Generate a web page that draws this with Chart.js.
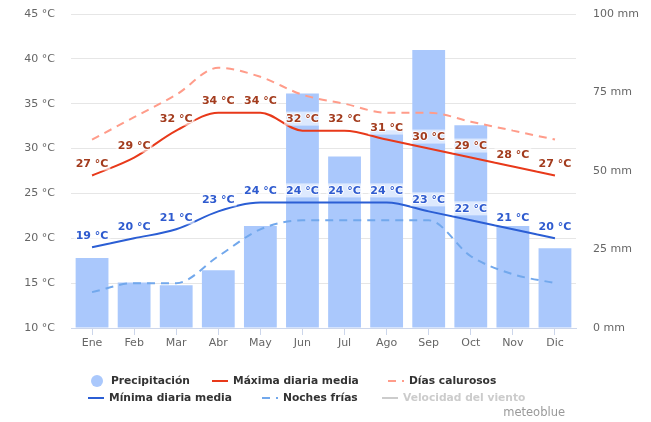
<!DOCTYPE html>
<html>
<head>
<meta charset="utf-8">
<script src="https://cdn.jsdelivr.net/npm/chart.js@4/dist/chart.umd.min.js"></script>
<style>
  html, body { margin: 0; padding: 0; background: #fff; }
  #wrap { position: relative; width: 651px; height: 422px; }
</style>
</head>
<body>
<div id="wrap"><canvas id="climate" width="651" height="422"></canvas></div>
<script>
/* data */
const months = ['Ene', 'Feb', 'Mar', 'Abr', 'May', 'Jun', 'Jul', 'Ago', 'Sep', 'Oct', 'Nov', 'Dic'];
const precipitation = [22.3, 14.5, 13.6, 18.4, 32.5, 74.7, 54.6, 63, 88.5, 64.6, 32.5, 25.4]; // mm
const maxDaily = [27, 29, 32, 34, 34, 32, 32, 31, 30, 29, 28, 27];
const hotDays = [31, 33.5, 36, 39, 38, 36, 35, 34, 34, 33, 32, 31];
const minDaily = [19, 20, 21, 23, 24, 24, 24, 24, 23, 22, 21, 20];
const coldNights = [14, 15, 15, 18, 21, 22, 22, 22, 22, 18, 16, 15];
const windSpeed = []; // hidden series, only in legend

const tempTicks = [10, 15, 20, 25, 30, 35, 40, 45];
const rainTicks = [0, 25, 50, 75, 100];

const FONT = '"DejaVu Sans", Verdana, sans-serif';
Chart.defaults.font.family = FONT;

/* legend slots (x of symbol start, y of row) */
const legendSlots = [[90, 381], [212, 381], [388, 381], [88, 398], [262, 398], [382, 398]];

/* data labels plugin: boxed "NN °C" above the point */
const tempLabels = {
  id: 'tempLabels',
  afterDatasetsDraw(chart) {
    const ctx = chart.ctx;
    ctx.save();
    ctx.font = 'bold 11px ' + FONT;
    ctx.textAlign = 'center';
    ctx.textBaseline = 'middle';
    chart.data.datasets.forEach((ds, di) => {
      if (!ds.labelColor) return;
      const meta = chart.getDatasetMeta(di);
      meta.data.forEach((pt, i) => {
        const txt = ds.data[i] + ' °C';
        const w = ctx.measureText(txt).width + 4;
        const cx = pt.x, cy = pt.y - 12;
        ctx.fillStyle = 'rgba(255,255,255,0.6)';
        ctx.fillRect(cx - w / 2, cy - 7, w, 14);
        ctx.lineWidth = 2;
        ctx.lineJoin = 'round';
        ctx.strokeStyle = 'rgba(255,255,255,0.85)';
        ctx.strokeText(txt, cx, cy + 0.5);
        ctx.fillStyle = ds.labelColor;
        ctx.fillText(txt, cx, cy + 0.5);
      });
    });
    ctx.restore();
  }
};

/* legend + credit drawn on canvas */
const customLegend = {
  id: 'customLegend',
  afterDraw(chart) {
    const ctx = chart.ctx;
    ctx.save();
    ctx.font = 'bold 10.7px ' + FONT;
    ctx.textBaseline = 'middle';
    ctx.textAlign = 'left';
    chart.data.datasets.forEach((ds, i) => {
      const [x, y] = legendSlots[i];
      const off = ds.legendHidden;
      const col = off ? '#cccccc' : ds.borderColor;
      if (ds.type === 'bar') {
        ctx.fillStyle = ds.backgroundColor;
        ctx.beginPath();
        ctx.arc(x + 7, y, 6, 0, Math.PI * 2);
        ctx.fill();
      } else {
        ctx.strokeStyle = col;
        ctx.lineWidth = 2;
        ctx.setLineDash(ds.borderDash || []);
        ctx.beginPath();
        ctx.moveTo(x, y);
        ctx.lineTo(x + 16, y);
        ctx.stroke();
        ctx.setLineDash([]);
      }
      ctx.fillStyle = off ? '#cccccc' : '#333333';
      ctx.fillText(ds.label, x + 21, y + 0.5);
    });
    ctx.font = '11.5px ' + FONT;
    ctx.fillStyle = '#999999';
    ctx.textAlign = 'right';
    ctx.fillText('meteoblue', 565, 413);
    ctx.restore();
  }
};

const ctx = document.getElementById('climate').getContext('2d');
const climateChart = new Chart(ctx, {
  data: {
    labels: months,
    datasets: [
      {
        type: 'bar',
        label: 'Precipitación',
        data: precipitation,
        yAxisID: 'rain',
        backgroundColor: '#aac8fc',
        barPercentage: 0.78,
        categoryPercentage: 1,
        order: 10
      },
      {
        type: 'line',
        label: 'Máxima diaria media',
        data: maxDaily,
        yAxisID: 'temp',
        borderColor: '#e8391a',
        borderWidth: 2,
        labelColor: '#a33c1e',
        order: 2
      },
      {
        type: 'line',
        label: 'Días calurosos',
        data: hotDays,
        yAxisID: 'temp',
        borderColor: '#ff9c8a',
        borderWidth: 2,
        borderDash: [8, 6],
        order: 3
      },
      {
        type: 'line',
        label: 'Mínima diaria media',
        data: minDaily,
        yAxisID: 'temp',
        borderColor: '#2b5ed4',
        borderWidth: 2,
        labelColor: '#2f5bcf',
        order: 2
      },
      {
        type: 'line',
        label: 'Noches frías',
        data: coldNights,
        yAxisID: 'temp',
        borderColor: '#72a8ec',
        borderWidth: 2,
        borderDash: [8, 6],
        order: 3
      },
      {
        type: 'line',
        label: 'Velocidad del viento',
        data: windSpeed,
        yAxisID: 'temp',
        borderColor: '#cccccc',
        borderWidth: 2,
        legendHidden: true,
        order: 4
      }
    ]
  },
  options: {
    responsive: false,
    animation: false,
    layout: { padding: { top: 14, bottom: 64, left: 0, right: 0 } },
    elements: {
      point: { radius: 0, hoverRadius: 0 },
      line: { cubicInterpolationMode: 'monotone', fill: false }
    },
    plugins: { legend: { display: false }, tooltip: { enabled: false } },
    scales: {
      x: {
        grid: { offset: false, drawOnChartArea: false, drawTicks: true, tickLength: 7, color: '#ccd6eb' },
        border: { color: '#ccd6eb' },
        ticks: { color: '#666666', font: { size: 11 }, padding: 2 },
        afterFit: s => { s.height = 30; }
      },
      temp: {
        position: 'left',
        min: tempTicks[0],
        max: tempTicks[tempTicks.length - 1],
        afterBuildTicks: s => { s.ticks = tempTicks.map(v => ({ value: v })); },
        // tick marks kept invisible: they only make the gap between labels and plot
        grid: { color: '#e6e6e6', drawTicks: true, tickLength: 16, tickColor: 'rgba(0,0,0,0)' },
        border: { display: false },
        ticks: { color: '#666666', font: { size: 11 }, padding: 0, callback: v => v + ' °C' },
        afterFit: s => { s.width = 71; }
      },
      rain: {
        position: 'right',
        min: rainTicks[0],
        max: rainTicks[rainTicks.length - 1],
        afterBuildTicks: s => { s.ticks = rainTicks.map(v => ({ value: v })); },
        grid: { drawOnChartArea: false, drawTicks: true, tickLength: 17, tickColor: 'rgba(0,0,0,0)' },
        border: { display: false },
        ticks: { color: '#666666', font: { size: 11 }, padding: 0, callback: v => v + ' mm' },
        afterFit: s => { s.width = 75; }
      }
    }
  },
  plugins: [tempLabels, customLegend]
});
</script>
</body>
</html>
